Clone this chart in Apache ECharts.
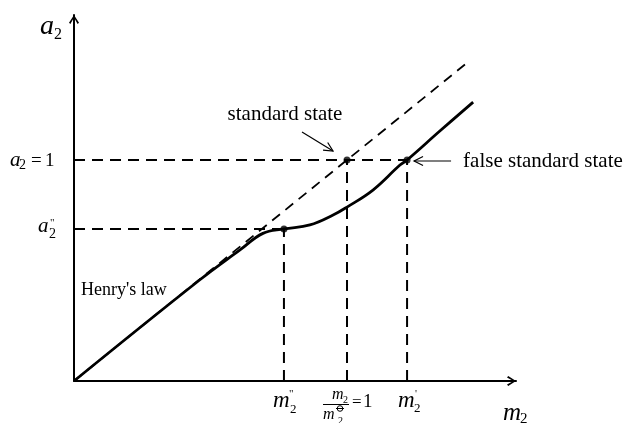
<!DOCTYPE html>
<html>
<head>
<meta charset="utf-8">
<script src="https://cdn.jsdelivr.net/npm/echarts@6/dist/echarts.min.js"></script>
<style>
  html, body { margin: 0; padding: 0; background: #fff; }
  #chart { width: 629px; height: 423px; }
</style>
</head>
<body>
<div id="chart"></div>
<script>
// Activity a2 of a solute against its molality m2 (in units of m°).
const xMax = 1.619;          // end of the m2 axis (arrow tip)
const yMax = 1.656;          // end of the a2 axis (arrow tip)

// Henry's law reference line a2 = m2/m°
const henryX = [0, 1.45];
const henryY = [0, 1.45];

// real solute activity curve
const curveX = [0, 0.46, 0.608, 0.692, 0.769, 0.864, 0.949, 1.0, 1.095, 1.194, 1.22, 1.34, 1.462];
const curveY = [0, 0.457, 0.593, 0.668, 0.688, 0.706, 0.751, 0.787, 0.864, 0.977, 1.0, 1.131, 1.262];

// marked states: [m2, a2]
const m2pp = 0.769, a2pp = 0.688;   // m2'' , a2''
const m2std = 1.0, a2std = 1.0;     // standard state
const m2p = 1.22;                   // m2' (false standard state)
const markedX = [m2pp, m2std, m2p];
const markedY = [a2pp, a2std, a2std];

const SERIF = '"Liberation Serif", "Times New Roman", serif';
const BLACK = '#000';

const pairs = (xs, ys) => xs.map((x, i) => [x, ys[i]]);

function guide(points) {
  return {
    type: 'line', data: points, symbol: 'none', silent: true,
    lineStyle: { color: BLACK, width: 2, type: [11, 7] }, z: 2
  };
}

const chart = echarts.init(document.getElementById('chart'), null, { renderer: 'canvas' });

const chevron = 'path://M5,0 L10,7.8 L8.6,9 L5,2.6 L1.4,9 L0,7.8 Z';

const axisCommon = {
  type: 'value', min: 0,
  splitLine: { show: false }, axisTick: { show: false }, axisLabel: { show: false },
  axisLine: {
    show: true, onZero: false,
    symbol: ['none', chevron], symbolSize: [10, 9], symbolOffset: [0, -4.5],
    lineStyle: { color: BLACK, width: 2 }
  }
};

chart.setOption({
  animation: false,
  backgroundColor: '#fff',
  grid: { left: 74, right: 113, top: 15, bottom: 42, containLabel: false },
  xAxis: Object.assign({}, axisCommon, { max: xMax }),
  yAxis: Object.assign({}, axisCommon, { max: yMax }),
  series: [
    {
      type: 'line', data: pairs(henryX, henryY), symbol: 'none', silent: true,
      lineStyle: { color: BLACK, width: 1.8, type: [10, 7] }, z: 3
    },
    guide([[0, a2std], [m2p, a2std]]),
    guide([[0, a2pp], [m2pp, a2pp]]),
    guide([[m2pp, 0], [m2pp, a2pp]]),
    guide([[m2std, 0], [m2std, a2std]]),
    guide([[m2p, 0], [m2p, a2std]]),
    {
      type: 'line', data: pairs(curveX, curveY), symbol: 'none', silent: true,
      smooth: 0.4,
      lineStyle: { color: BLACK, width: 2.8 }, z: 4
    },
    {
      type: 'scatter', data: pairs(markedX, markedY), symbol: 'circle', symbolSize: 7,
      itemStyle: { color: BLACK }, silent: true, z: 5
    }
  ]
});

// ---- typeset labels and annotations ----
const px = (x, y) => chart.convertToPixel({ gridIndex: 0 }, [x, y]);

// text placed by its baseline
function T(x, baseline, s, size, italic, align) {
  return {
    type: 'text', x: x, y: baseline - 0.3 * size, silent: true,
    style: {
      text: s, fill: BLACK, align: align || 'left', verticalAlign: 'middle',
      font: (italic ? 'italic ' : '') + size + 'px ' + SERIF
    }
  };
}
function L(x1, y1, x2, y2, w) {
  return { type: 'line', silent: true, shape: { x1, y1, x2, y2 }, style: { stroke: BLACK, lineWidth: w || 1.2 } };
}
function arrow(x1, y1, x2, y2) {
  const a = Math.atan2(y2 - y1, x2 - x1), len = 10, sp = 0.46;
  const p1 = [x2 - len * Math.cos(a - sp), y2 - len * Math.sin(a - sp)];
  const p2 = [x2 - len * Math.cos(a + sp), y2 - len * Math.sin(a + sp)];
  return [
    L(x1, y1, x2, y2, 1.2),
    { type: 'polyline', silent: true, shape: { points: [p1, [x2, y2], p2] },
      style: { stroke: BLACK, lineWidth: 1.2, fill: null } }
  ];
}

const O = px(0, 0);
const yTop = px(0, yMax);
const xEnd = px(xMax, 0);
const Y1 = px(0, a2std);
const Ypp = px(0, a2pp);
const Xpp = px(m2pp, 0);
const X1 = px(m2std, 0);
const Xp = px(m2p, 0);
const Pstd = px(m2std, a2std);
const Pfalse = px(m2p, a2std);

const g = [];

// axis names
g.push(T(yTop[0] - 34, yTop[1] + 20, 'a', 28, true));
g.push(T(yTop[0] - 20, yTop[1] + 25, '2', 16, false));
g.push(T(xEnd[0] - 13, xEnd[1] + 40, 'm', 25, true));
g.push(T(xEnd[0] + 4, xEnd[1] + 43, '2', 15, false));

// a2 = 1
g.push(T(Y1[0] - 64, Y1[1] + 7, 'a', 21, true));
g.push(T(Y1[0] - 55, Y1[1] + 10, '2', 14, false));
g.push(T(Y1[0] - 43, Y1[1] + 7, '=', 19, false));
g.push(T(Y1[0] - 29, Y1[1] + 7, '1', 19, false));

// a2''
g.push(T(Ypp[0] - 36, Ypp[1] + 4, 'a', 21, true));
g.push(T(Ypp[0] - 25, Ypp[1] + 10, '2', 14, false));
g.push(T(Ypp[0] - 24, Ypp[1] - 3, '"', 11, false));

// m2''
g.push(T(Xpp[0] - 11, Xpp[1] + 27, 'm', 23, true));
g.push(T(Xpp[0] + 6, Xpp[1] + 32, '2', 13, false));
g.push(T(Xpp[0] + 5, Xpp[1] + 16, '"', 11, false));

// m2'
g.push(T(Xp[0] - 9, Xp[1] + 27, 'm', 23, true));
g.push(T(Xp[0] + 7, Xp[1] + 31, '2', 13, false));
g.push(T(Xp[0] + 8, Xp[1] + 16, "'", 11, false));

// m2 / m° = 1
g.push(T(X1[0] - 15, X1[1] + 19, 'm', 16, true));
g.push(T(X1[0] - 4, X1[1] + 22, '2', 10, false));
g.push(L(X1[0] - 24, X1[1] + 23.5, X1[0] + 2, X1[1] + 23.5, 1));
g.push(T(X1[0] - 24, X1[1] + 39, 'm', 16, true));
g.push({ type: 'circle', silent: true, shape: { cx: X1[0] - 7, cy: X1[1] + 27.5, r: 2.8 },
         style: { fill: 'none', stroke: BLACK, lineWidth: 1 } });
g.push(L(X1[0] - 11, X1[1] + 27.5, X1[0] - 3, X1[1] + 27.5, 1));
g.push(T(X1[0] - 9, X1[1] + 43, '2', 10, false));
g.push(T(X1[0] + 5, X1[1] + 27, '=', 17, false));
g.push(T(X1[0] + 16, X1[1] + 27, '1', 19, false));

// annotations
g.push(T(Pstd[0] - 62, Pstd[1] - 39, 'standard state', 21, false, 'center'));
g.push(...arrow(Pstd[0] - 45, Pstd[1] - 28, Pstd[0] - 14, Pstd[1] - 9));
g.push(T(Pfalse[0] + 56, Pfalse[1] + 8, 'false standard state', 21, false));
g.push(...arrow(Pfalse[0] + 44, Pfalse[1] + 1, Pfalse[0] + 7, Pfalse[1] + 1));
g.push(T(O[0] + 7, O[1] - 85, "Henry's law", 18, false));

chart.setOption({ graphic: g });
</script>
</body>
</html>
